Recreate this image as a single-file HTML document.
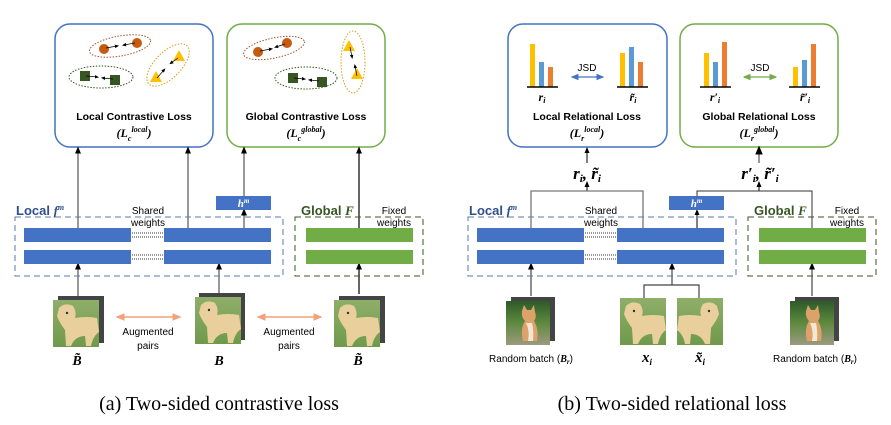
<!DOCTYPE html>
<html><head><meta charset="utf-8"><style>
html,body{margin:0;padding:0;background:#fff;width:891px;height:425px;overflow:hidden}
svg{display:block}
.t{font-family:"Liberation Sans",sans-serif}
.m{font-family:"Liberation Serif",serif;font-weight:bold;font-style:italic}
</style></head><body>
<svg width="891" height="425" viewBox="0 0 891 425" xmlns="http://www.w3.org/2000/svg">
<defs>
<marker id="ah" markerWidth="6" markerHeight="6" refX="3" refY="3" orient="auto"><path d="M0,0.5 L6,3 L0,5.5z" fill="#000"/></marker>
<marker id="ob" markerWidth="6" markerHeight="6" refX="5" refY="3" orient="auto-start-reverse"><path d="M0,0.5 L6,3 L0,5.5z" fill="#f4a07a"/></marker>
<marker id="bb" markerWidth="6" markerHeight="6" refX="5" refY="3" orient="auto-start-reverse"><path d="M0,0.5 L6,3 L0,5.5z" fill="#4472c4"/></marker>
<marker id="gb" markerWidth="6" markerHeight="6" refX="5" refY="3" orient="auto-start-reverse"><path d="M0,0.5 L6,3 L0,5.5z" fill="#70ad47"/></marker>
<linearGradient id="grass" x1="0" y1="0" x2="0" y2="1"><stop offset="0" stop-color="#8fae6a"/><stop offset="1" stop-color="#6f9a4a"/></linearGradient>
<linearGradient id="catbg" x1="0" y1="0" x2="0" y2="1"><stop offset="0" stop-color="#2f5a2a"/><stop offset="0.5" stop-color="#5d8a3e"/><stop offset="1" stop-color="#9c9a80"/></linearGradient>
<g id="dog"><rect width="46" height="47" fill="url(#grass)"/><path d="M6,8 Q12,2 20,6 Q24,12 22,18 Q34,16 44,18 L46,32 Q40,36 38,46 L33,46 L32,36 Q22,36 18,46 L13,46 L12,30 Q6,22 4,16z" fill="#e8cf9c"/><circle cx="14" cy="13" r="1.2" fill="#333"/></g>
<g id="cat"><rect width="44" height="44" fill="url(#catbg)"/><path d="M16,10 L18,4 L21,9 L25,9 L28,4 L29,11 Q31,16 28,20 Q33,28 31,40 L17,40 Q14,28 19,20 Q15,16 16,10z" fill="#dca26a"/><path d="M20,22 Q24,30 22,40 L27,40 Q28,30 26,22z" fill="#f2e6d6"/></g>
</defs>

<!-- ===== Panel (a) ===== -->
<g>
<rect x="55" y="24" width="158" height="123" rx="15" fill="none" stroke="#4472c4" stroke-width="1.5"/>
<rect x="227" y="24" width="158" height="123" rx="15" fill="none" stroke="#70ad47" stroke-width="1.5"/>
<g>
<ellipse cx="120" cy="46" rx="31" ry="10" transform="rotate(-10 120 46)" fill="none" stroke="#a0522d" stroke-dasharray="1.5 1.5"/>
<circle cx="104" cy="49" r="5" fill="#c55a11"/><circle cx="137" cy="43" r="5" fill="#c55a11"/>
<line x1="106" y1="48" x2="117" y2="46" stroke="#000" stroke-width="0.7" marker-end="url(#ah)"/><line x1="135" y1="43" x2="124" y2="45" stroke="#000" stroke-width="0.7" marker-end="url(#ah)"/>
<ellipse cx="101" cy="77" rx="32" ry="11" fill="none" stroke="#375623" stroke-dasharray="1.5 1.5"/>
<rect x="80" y="71" width="10" height="10" fill="#375623"/><rect x="110" y="75" width="10" height="10" fill="#375623"/>
<line x1="86" y1="76" x2="97" y2="77" stroke="#000" stroke-width="0.7" marker-end="url(#ah)"/><line x1="113" y1="79" x2="103" y2="78" stroke="#000" stroke-width="0.7" marker-end="url(#ah)"/>
<ellipse cx="168" cy="65" rx="13" ry="27" transform="rotate(45 168 65)" fill="none" stroke="#d4a017" stroke-dasharray="1.5 1.5"/>
<path d="M179,50 L185,61 L173,61z" fill="#ffc000"/><path d="M156,71 L162,82 L150,82z" fill="#ffc000"/>
<line x1="178" y1="58" x2="171" y2="63" stroke="#000" stroke-width="0.7" marker-end="url(#ah)"/><line x1="157" y1="78" x2="164" y2="70" stroke="#000" stroke-width="0.7" marker-end="url(#ah)"/>
</g>
<g>
<ellipse cx="274" cy="48" rx="31" ry="10" transform="rotate(-12 274 48)" fill="none" stroke="#a0522d" stroke-dasharray="1.5 1.5"/>
<circle cx="258" cy="52" r="5" fill="#c55a11"/><circle cx="287" cy="43" r="5" fill="#c55a11"/>
<line x1="260" y1="51" x2="271" y2="49" stroke="#000" stroke-width="0.7" marker-end="url(#ah)"/><line x1="285" y1="44" x2="276" y2="47" stroke="#000" stroke-width="0.7" marker-end="url(#ah)"/>
<ellipse cx="306" cy="78" rx="31" ry="11" fill="none" stroke="#375623" stroke-dasharray="1.5 1.5"/>
<rect x="288" y="73" width="10" height="10" fill="#375623"/><rect x="317" y="77" width="10" height="10" fill="#375623"/>
<line x1="294" y1="78" x2="304" y2="79" stroke="#000" stroke-width="0.7" marker-end="url(#ah)"/><line x1="319" y1="81" x2="310" y2="80" stroke="#000" stroke-width="0.7" marker-end="url(#ah)"/>
<ellipse cx="353" cy="62" rx="12" ry="31" fill="none" stroke="#d4a017" stroke-dasharray="1.5 1.5"/>
<path d="M349,40 L355,51 L343,51z" fill="#ffc000"/><path d="M357,68 L363,79 L351,79z" fill="#ffc000"/>
<line x1="350" y1="47" x2="352" y2="57" stroke="#000" stroke-width="0.7" marker-end="url(#ah)"/><line x1="357" y1="76" x2="355" y2="66" stroke="#000" stroke-width="0.7" marker-end="url(#ah)"/>
</g>
<text class="t" x="134" y="120" font-size="10.5" font-weight="bold" text-anchor="middle">Local Contrastive Loss</text>
<text x="134" y="137" font-size="12" text-anchor="middle" class="m">(L<tspan font-size="8" dy="4">c</tspan><tspan font-size="8" dy="-9">local</tspan><tspan dy="5">)</tspan></text>
<text class="t" x="306" y="120" font-size="10.5" font-weight="bold" text-anchor="middle">Global Contrastive Loss</text>
<text x="306" y="137" font-size="12" text-anchor="middle" class="m">(L<tspan font-size="8" dy="4">c</tspan><tspan font-size="8" dy="-9">global</tspan><tspan dy="5">)</tspan></text>

<g stroke="#555" stroke-width="1.2">
<line x1="78" y1="228" x2="78" y2="150" marker-end="url(#ah)"/>
<line x1="188" y1="228" x2="188" y2="150" marker-end="url(#ah)"/>
<line x1="244" y1="196" x2="244" y2="150" marker-end="url(#ah)"/>
<line x1="244" y1="228" x2="244" y2="212" marker-end="url(#ah)"/>
<line x1="359" y1="228" x2="359" y2="150" marker-end="url(#ah)" stroke="#000"/>
<line x1="78" y1="296" x2="78" y2="266" marker-end="url(#ah)"/>
<line x1="219" y1="294" x2="219" y2="266" marker-end="url(#ah)"/>
<line x1="359" y1="294" x2="359" y2="266" marker-end="url(#ah)" stroke="#000"/>
</g>
<rect x="216" y="196" width="55" height="14" fill="#4472c4"/>
<text x="243.5" y="207" font-size="11" fill="#fff" text-anchor="middle" class="m">h<tspan font-size="7" dy="-4">m</tspan></text>
<text x="16" y="215" font-size="13" font-weight="bold" fill="#2f4f8f" class="t">Local <tspan class="m" font-family="Liberation Serif">f<tspan font-size="8" dy="-5">m</tspan></tspan></text>
<rect x="15" y="217" width="268" height="59" fill="none" stroke="#5a78b0" stroke-dasharray="6 4"/>
<rect x="24" y="228" width="107" height="14" fill="#4472c4"/><rect x="24" y="250" width="107" height="14" fill="#4472c4"/>
<rect x="164" y="228" width="107" height="14" fill="#4472c4"/><rect x="164" y="250" width="107" height="14" fill="#4472c4"/>
<g stroke="#333" stroke-dasharray="1 1"><line x1="132" y1="233" x2="163" y2="233"/><line x1="132" y1="237" x2="163" y2="237"/><line x1="132" y1="255" x2="163" y2="255"/><line x1="132" y1="259" x2="163" y2="259"/></g>
<text x="148" y="214" font-size="10" text-anchor="middle" class="t">Shared</text><text x="148" y="226" font-size="10" text-anchor="middle" class="t">weights</text>
<text x="301" y="215" font-size="13" font-weight="bold" fill="#375623" class="t">Global <tspan class="m" font-family="Liberation Serif">F</tspan></text>
<rect x="295" y="217" width="128" height="59" fill="none" stroke="#375623" stroke-dasharray="6 4"/>
<rect x="306" y="228" width="107" height="14" fill="#70ad47"/><rect x="306" y="250" width="107" height="14" fill="#70ad47"/>
<text x="394" y="214" font-size="10" text-anchor="middle" class="t">Fixed</text><text x="394" y="226" font-size="10" text-anchor="middle" class="t">weights</text>

<g>
<rect x="58" y="296" width="46" height="47" fill="#444"/><use href="#dog" x="53" y="300"/>
<rect x="199" y="293" width="46" height="47" fill="#444"/><use href="#dog" x="195" y="297"/>
<rect x="339" y="296" width="46" height="47" fill="#444"/><use href="#dog" x="334" y="300"/>
</g>
<line x1="117" y1="317" x2="180" y2="317" stroke="#f4a07a" stroke-width="1.5" marker-start="url(#ob)" marker-end="url(#ob)"/>
<line x1="258" y1="317" x2="321" y2="317" stroke="#f4a07a" stroke-width="1.5" marker-start="url(#ob)" marker-end="url(#ob)"/>
<text x="148" y="335" font-size="10" text-anchor="middle" class="t">Augmented</text><text x="148" y="349" font-size="10" text-anchor="middle" class="t">pairs</text>
<text x="289" y="335" font-size="10" text-anchor="middle" class="t">Augmented</text><text x="289" y="349" font-size="10" text-anchor="middle" class="t">pairs</text>
<text x="77" y="365" font-size="14" text-anchor="middle" class="m">B̃</text>
<text x="219" y="365" font-size="14" text-anchor="middle" class="m">B</text>
<text x="358" y="365" font-size="14" text-anchor="middle" class="m">B̃</text>
<text x="219" y="410" font-size="20" text-anchor="middle" font-family="Liberation Serif, serif">(a) Two-sided contrastive loss</text>
</g>

<!-- ===== Panel (b) ===== -->
<g>
<rect x="508" y="24" width="159" height="123" rx="15" fill="none" stroke="#4472c4" stroke-width="1.5"/>
<rect x="680" y="24" width="158" height="123" rx="15" fill="none" stroke="#70ad47" stroke-width="1.5"/>
<g>
<rect x="530" y="44" width="5" height="43" fill="#ffc000"/><rect x="539" y="62" width="5" height="25" fill="#5b9bd5"/><rect x="548" y="67" width="5" height="20" fill="#ed7d31"/>
<line x1="527" y1="87" x2="558" y2="87" stroke="#000" stroke-width="1.5"/>
<rect x="620" y="53" width="5" height="34" fill="#ffc000"/><rect x="629" y="47" width="5" height="40" fill="#5b9bd5"/><rect x="638" y="62" width="5" height="25" fill="#ed7d31"/>
<line x1="617" y1="87" x2="648" y2="87" stroke="#000" stroke-width="1.5"/>
<rect x="704" y="53" width="5" height="34" fill="#ffc000"/><rect x="713" y="62" width="5" height="25" fill="#5b9bd5"/><rect x="722" y="42" width="5" height="45" fill="#ed7d31"/>
<line x1="700" y1="87" x2="731" y2="87" stroke="#000" stroke-width="1.5"/>
<rect x="793" y="67" width="5" height="20" fill="#ffc000"/><rect x="802" y="60" width="5" height="27" fill="#5b9bd5"/><rect x="811" y="44" width="5" height="43" fill="#ed7d31"/>
<line x1="789" y1="87" x2="820" y2="87" stroke="#000" stroke-width="1.5"/>
</g>
<text x="587" y="71" font-size="10" text-anchor="middle" class="t">JSD</text>
<line x1="572" y1="77" x2="603" y2="77" stroke="#4472c4" stroke-width="1.3" marker-start="url(#bb)" marker-end="url(#bb)"/>
<text x="760" y="71" font-size="10" text-anchor="middle" class="t">JSD</text>
<line x1="744" y1="77" x2="776" y2="77" stroke="#70ad47" stroke-width="1.3" marker-start="url(#gb)" marker-end="url(#gb)"/>
<text x="542" y="101" font-size="12" text-anchor="middle" class="m">r<tspan font-size="8" dy="2">i</tspan></text>
<text x="633" y="101" font-size="12" text-anchor="middle" class="m">r̃<tspan font-size="8" dy="2">i</tspan></text>
<text x="715" y="101" font-size="12" text-anchor="middle" class="m">r′<tspan font-size="8" dy="2">i</tspan></text>
<text x="805" y="101" font-size="12" text-anchor="middle" class="m">r̃′<tspan font-size="8" dy="2">i</tspan></text>
<text x="587" y="120" font-size="10.5" font-weight="bold" text-anchor="middle" class="t">Local Relational Loss</text>
<text x="587" y="137" font-size="12" text-anchor="middle" class="m">(L<tspan font-size="8" dy="4">r</tspan><tspan font-size="8" dy="-9">local</tspan><tspan dy="5">)</tspan></text>
<text x="759" y="120" font-size="10.5" font-weight="bold" text-anchor="middle" class="t">Global Relational Loss</text>
<text x="759" y="137" font-size="12" text-anchor="middle" class="m">(L<tspan font-size="8" dy="4">r</tspan><tspan font-size="8" dy="-9">global</tspan><tspan dy="5">)</tspan></text>

<text x="587" y="179" font-size="17" text-anchor="middle" class="m">r<tspan font-size="11" dy="3">i</tspan><tspan dy="-3">,  r̃</tspan><tspan font-size="11" dy="3">i</tspan></text>
<text x="760" y="179" font-size="17" text-anchor="middle" class="m">r′<tspan font-size="11" dy="3">i</tspan><tspan dy="-3">,  r̃′</tspan><tspan font-size="11" dy="3">i</tspan></text>
<g stroke="#000" stroke-width="1" fill="none">
<line x1="587" y1="163" x2="587" y2="150" marker-end="url(#ah)"/>
<line x1="759" y1="163" x2="759" y2="150" marker-end="url(#ah)" stroke="#777" stroke-width="1.5"/>
<line x1="587" y1="191" x2="587" y2="184" marker-end="url(#ah)"/>
<line x1="759" y1="191" x2="759" y2="184" marker-end="url(#ah)"/>
<path d="M531,228 V191 H643 V228" stroke="#777" stroke-width="1.3"/>
<path d="M697,196 V191 H812 V228" stroke="#333"/>
<line x1="697" y1="228" x2="697" y2="212" marker-end="url(#ah)"/>
<line x1="531" y1="296" x2="531" y2="266" stroke="#444" stroke-width="1.2" marker-end="url(#ah)"/>
<path d="M644,298 V285 H699 V298" stroke="#444" stroke-width="1.2"/>
<line x1="672" y1="285" x2="672" y2="266" stroke="#444" stroke-width="1.2" marker-end="url(#ah)"/>
<line x1="812" y1="296" x2="812" y2="266" stroke="#444" stroke-width="1.2" marker-end="url(#ah)"/>
</g>
<rect x="669" y="196" width="55" height="14" fill="#4472c4"/>
<text x="696.5" y="207" font-size="11" fill="#fff" text-anchor="middle" class="m">h<tspan font-size="7" dy="-4">m</tspan></text>
<text x="469" y="215" font-size="13" font-weight="bold" fill="#2f4f8f" class="t">Local <tspan class="m">f<tspan font-size="8" dy="-5">m</tspan></tspan></text>
<rect x="468" y="217" width="268" height="59" fill="none" stroke="#5a78b0" stroke-dasharray="6 4"/>
<rect x="477" y="228" width="107" height="14" fill="#4472c4"/><rect x="477" y="250" width="107" height="14" fill="#4472c4"/>
<rect x="617" y="228" width="107" height="14" fill="#4472c4"/><rect x="617" y="250" width="107" height="14" fill="#4472c4"/>
<g stroke="#333" stroke-dasharray="1 1"><line x1="585" y1="233" x2="616" y2="233"/><line x1="585" y1="237" x2="616" y2="237"/><line x1="585" y1="255" x2="616" y2="255"/><line x1="585" y1="259" x2="616" y2="259"/></g>
<text x="601" y="214" font-size="10" text-anchor="middle" class="t">Shared</text><text x="601" y="226" font-size="10" text-anchor="middle" class="t">weights</text>
<text x="754" y="215" font-size="13" font-weight="bold" fill="#375623" class="t">Global <tspan class="m">F</tspan></text>
<rect x="748" y="217" width="128" height="59" fill="none" stroke="#375623" stroke-dasharray="6 4"/>
<rect x="759" y="228" width="107" height="14" fill="#70ad47"/><rect x="759" y="250" width="107" height="14" fill="#70ad47"/>
<text x="847" y="214" font-size="10" text-anchor="middle" class="t">Fixed</text><text x="847" y="226" font-size="10" text-anchor="middle" class="t">weights</text>

<g>
<rect x="511" y="297" width="44" height="44" fill="#444"/><use href="#cat" x="506" y="301"/>
<use href="#dog" x="620" y="298"/>
<g transform="translate(723,298) scale(-1,1)"><use href="#dog"/></g>
<rect x="795" y="297" width="44" height="44" fill="#444"/><use href="#cat" x="790" y="301"/>
</g>
<text x="531" y="362" font-size="10" text-anchor="middle" class="t">Random batch (<tspan class="m">B<tspan font-size="7" dy="2">r</tspan></tspan><tspan dy="-2">)</tspan></text>
<text x="815" y="362" font-size="10" text-anchor="middle" class="t">Random batch (<tspan class="m">B<tspan font-size="7" dy="2">r</tspan></tspan><tspan dy="-2">)</tspan></text>
<text x="647" y="362" font-size="15" text-anchor="middle" class="m">x<tspan font-size="9" dy="3">i</tspan></text>
<text x="700" y="362" font-size="15" text-anchor="middle" class="m">x̃<tspan font-size="9" dy="3">i</tspan></text>
<text x="672" y="410" font-size="20" text-anchor="middle" font-family="Liberation Serif, serif">(b) Two-sided relational loss</text>
</g>
</svg>
</body></html>
